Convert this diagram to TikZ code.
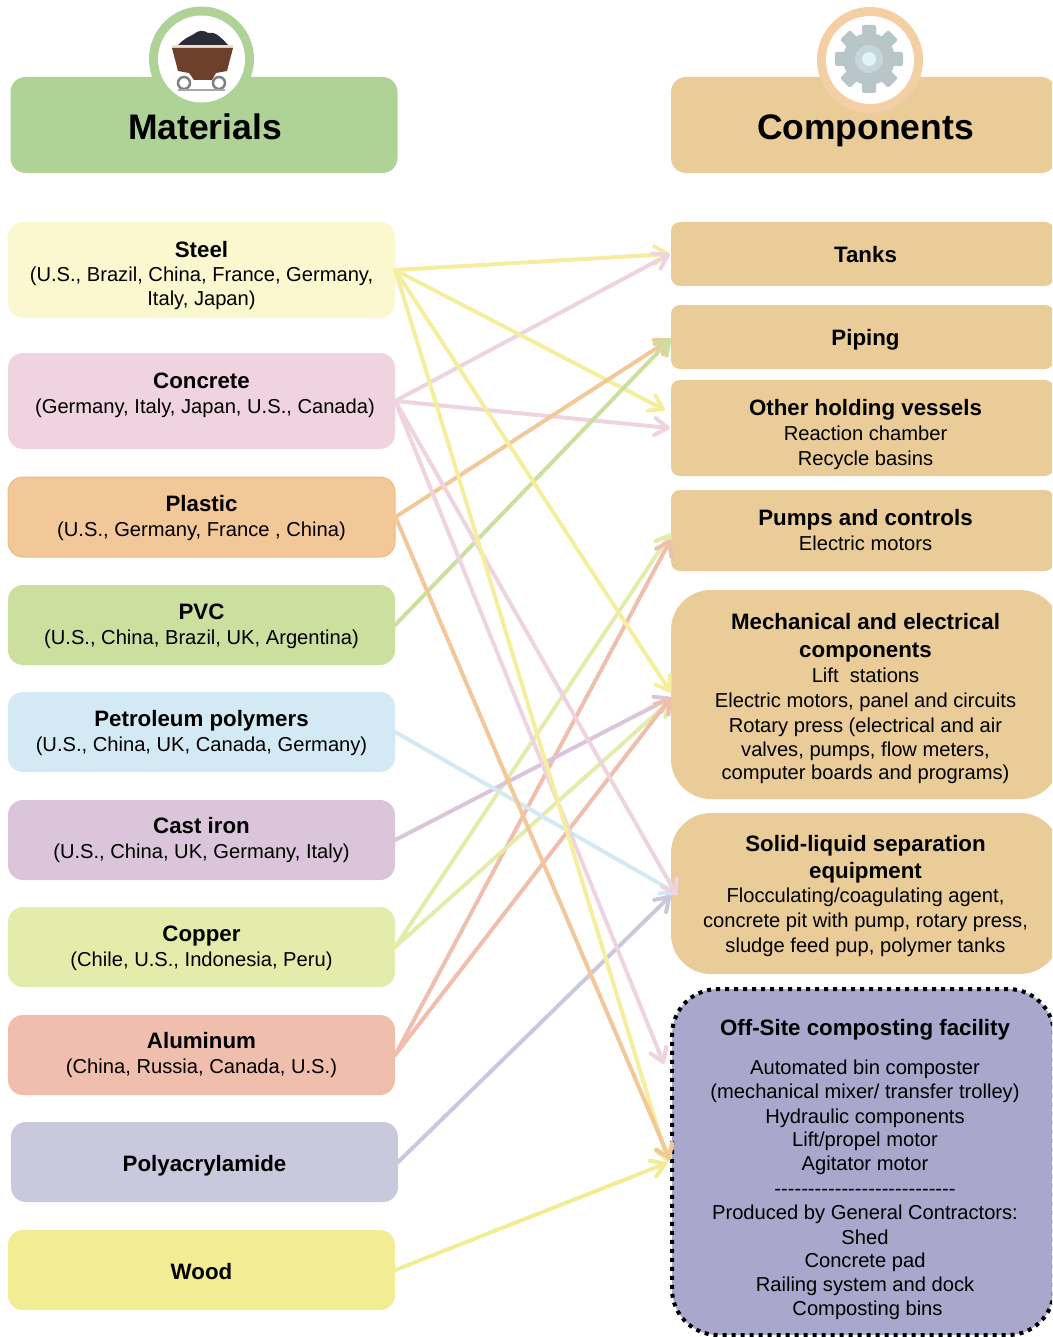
\documentclass[tikz,border=0pt]{standalone}
\usepackage{fontspec}
\setmainfont{Liberation Sans}
\usetikzlibrary{arrows.meta,calc}
\definecolor{cmat}{HTML}{AFD297}\definecolor{ccomp}{HTML}{E9CC98}
\definecolor{csteel}{HTML}{FBF8D0}\definecolor{aSteel}{HTML}{F5EE9E}
\definecolor{cconc}{HTML}{EFD3DF}\definecolor{cplas}{HTML}{F3C898}\definecolor{cplasb}{HTML}{EEBB80}
\definecolor{cpvc}{HTML}{CBDF9F}\definecolor{cpet}{HTML}{D3E9F4}\definecolor{ccast}{HTML}{DAC5DA}
\definecolor{ccop}{HTML}{E4ECAC}\definecolor{calu}{HTML}{F0BEAD}\definecolor{cpoly}{HTML}{CAC8DC}
\definecolor{cwood}{HTML}{F2EC95}\definecolor{coff}{HTML}{A9A8CC}\definecolor{cring}{HTML}{F3CFA3}
\definecolor{cgear}{HTML}{B8C6CA}\definecolor{cgearb}{HTML}{C6D6DA}\definecolor{cgearc}{HTML}{E0F3F5}
\definecolor{ccoal}{HTML}{2C2C38}\definecolor{ccart}{HTML}{6E3F2A}
\newcommand{\bt}[1]{{\fontsize{22.3}{25}\selectfont\bfseries #1}}
% text block whose first baseline sits #1 below the centre of its node
\newcommand{\tx}[2]{\raisebox{-#1pt}[0pt][0pt]{\parbox[t]{360pt}{\centering #2}}}
\tikzset{
  x=1pt,y=-1pt,
  box/.style={inner sep=0pt,rounded corners=15pt,font=\fontsize{20.15}{25}\selectfont,text=black},
  matbox/.style={box,minimum width=387pt},
  compbox/.style={box,fill=ccomp,minimum width=389pt},
  slimbox/.style={box,fill=ccomp,minimum width=383pt,rounded corners=9pt},
  headbox/.style={box,minimum height=96pt,font=\fontsize{35.5}{40}\selectfont\bfseries},
  link/.style={line width=4pt,line cap=round,line join=round,-{Straight Barb[length=13pt,width=17pt,line cap=round,line join=round]}},
}
\begin{document}
\begin{tikzpicture}
\clip (0,0) rectangle (1052,1337);
% headers
\node[headbox,fill=cmat,minimum width=387pt] (materials) at (204,125) {\hspace*{2pt}\tx{14.5}{Materials}};
\node[headbox,fill=ccomp,minimum width=385pt] (components) at (863.5,125) {\hspace*{4pt}\tx{14.5}{Components}};
% icons
\fill[cmat] (201.5,59) circle (52.5);
\fill[white] (201.5,59) circle (43.5);
\fill[cring] (870,60) circle (53);
\fill[white] (870,60) circle (44);
% cart
\fill[ccoal] (178,45) .. controls (184,39) and (188,37) .. (194,34) .. controls (198,30) and (204,30) .. (208,33) .. controls (214,31) and (220,36) .. (228,45) -- cycle;
\fill[white!75!brown] (172,45) rectangle (233,48);
\fill[ccart] (172,48) -- (233,48) -- (227,71) -- (216,73) -- (212,80) -- (194,80) -- (189,73) -- (178,71) -- cycle;
\draw[black!50,line width=2.5pt,fill=white] (184,83) circle (6) (219,83) circle (6);
\draw[black!35,line width=1.5pt] (178,90) -- (225,90);
% gear
\begin{scope}[shift={(869,59)}]
\foreach \a in {0,45,...,315}{\fill[rotate=\a,cgear] (-7,-34) [rounded corners=2pt] rectangle (7,-20);}
\fill[cgear] (0,0) circle (26);
\fill[cgearb] (0,0) circle (14);
\fill[cgearc] (0,0) circle (7);
\end{scope}
% materials
\node[matbox,fill=csteel,minimum height=96pt] (steel) at (201.5,270) {\tx{-13}{\bt{Steel}\\(U.S., Brazil, China, France, Germany,\\[-1pt]Italy, Japan)}};
\node[matbox,fill=cconc,minimum height=96pt] (concrete) at (201.5,401) {\tx{-13}{\bt{Concrete}\\\hspace*{7pt}(Germany, Italy, Japan, U.S., Canada)}};
\node[matbox,fill=cplas,draw=cplasb,line width=1pt,minimum height=80pt] (plastic) at (201.5,517) {\tx{-6}{\bt{Plastic}\\(U.S., Germany, France , China)}};
\node[matbox,fill=cpvc,minimum height=80pt] (pvc) at (201.5,625) {\tx{-6}{\bt{PVC}\\(U.S., China, Brazil, UK, Argentina)}};
\node[matbox,fill=cpet,minimum height=80pt] (petroleum) at (201.5,732) {\tx{-6}{\bt{Petroleum polymers}\\(U.S., China, UK, Canada, Germany)}};
\node[matbox,fill=ccast,minimum height=80pt] (castiron) at (201.5,840) {\tx{-7}{\bt{Cast iron}\\(U.S., China, UK, Germany, Italy)}};
\node[matbox,fill=ccop,minimum height=80pt] (copper) at (201.5,947) {\tx{-6}{\bt{Copper}\\(Chile, U.S., Indonesia, Peru)}};
\node[matbox,fill=calu,minimum height=80pt] (aluminum) at (201.5,1055) {\tx{-7}{\bt{Aluminum}\\(China, Russia, Canada, U.S.)}};
\node[matbox,fill=cpoly,minimum height=80pt] (polyacrylamide) at (204.5,1162) {\tx{9}{\bt{Polyacrylamide}}};
\node[matbox,fill=cwood,minimum height=80pt] (wood) at (201.5,1270) {\tx{9}{\bt{Wood}}};
% components
\node[slimbox,minimum height=64pt] (tanks) at (862.5,254) {\hspace*{6pt}\tx{9}{\bt{Tanks}}};
\node[slimbox,minimum height=64pt] (piping) at (862.5,337) {\hspace*{6pt}\tx{8}{\bt{Piping}}};
\node[slimbox,minimum height=96pt] (vessels) at (862.5,428) {\hspace*{6pt}\tx{-13}{\bt{Other holding vessels}\\Reaction chamber\\Recycle basins}};
\node[slimbox,minimum height=81pt] (pumps) at (862.5,530.5) {\hspace*{6pt}\tx{-5.5}{\bt{Pumps and controls}\\Electric motors}};
\node[compbox,minimum height=209pt,rounded corners=40pt] (mech) at (865.5,694.5) {\tx{-65.5}{\bt{Mechanical and electrical}\\[3pt]\bt{components}\\Lift\ \ stations\\Electric motors, panel and circuits\\Rotary press (electrical and air\\[-1pt]valves, pumps, flow meters,\\[-2pt]computer boards and programs)}};
\node[compbox,minimum height=161pt,rounded corners=40pt] (solid) at (865.5,893.5) {\tx{-42.5}{\bt{Solid-liquid separation}\\[2pt]\bt{equipment}\\[-1pt]Flocculating/coagulating agent,\\concrete pit with pump, rotary press,\\sludge feed pup, polymer tanks}};
\node[box,fill=coff,draw=black,line width=4pt,dash pattern=on 4pt off 5pt,minimum width=382pt,minimum height=346pt,rounded corners=46pt] (offsite) at (863,1162) {\hspace*{4pt}\tx{-127}{\bt{Off-Site composting facility}\\[14pt]Automated bin composter\\[-1pt](mechanical mixer/ transfer trolley)\\Hydraulic components\\[-2pt]Lift/propel motor\\[-1pt]Agitator motor\\-{}-{}-{}-{}-{}-{}-{}-{}-{}-{}-{}-{}-{}-{}-{}-{}-{}-{}-{}-{}-{}-{}-{}-{}-{}-{}-\\[-1pt]Produced by General Contractors:\\Shed\\[-2pt]Concrete pad\\[-1pt]Railing system and dock\\[-1pt]\hspace*{5pt}Composting bins}};
% connectors
\draw[link,aSteel] (steel.east) -- ($(tanks.west)+(-1,0)$);
\draw[link,cconc] (concrete.east) -- ($(tanks.west)+(-1,0)$);
\draw[link,aSteel] (steel.east) -- ($(vessels.west)+(-6,-18)$);
\draw[link,cconc] (concrete.east) -- ($(vessels.west)+(-1,0)$);
\draw[link,cplas] (plastic.east) -- ($(piping.west)+(0,2)$);
\draw[link,cpvc] (pvc.east) -- ($(piping.west)+(0,2)$);
\draw[link,ccop] (copper.east) -- ($(pumps.west)+(0,3)$);
\draw[link,calu] (aluminum.east) -- ($(pumps.west)+(0,9)$);
\draw[link,ccast] (castiron.east) -- ($(mech.west)+(0,3)$);
\draw[link,ccop] (copper.east) -- ($(mech.west)+(0,6)$);
\draw[link,calu] (aluminum.east) -- ($(mech.west)+(0,3)$);
\draw[link,aSteel] (steel.east) -- ($(mech.west)+(0,-2)$);
\draw[link,cpet] (petroleum.east) -- ($(solid.west)+(6,0)$);
\draw[link,cconc] (concrete.east) -- ($(solid.west)+(6,2)$);
\draw[link,cpoly] (polyacrylamide.east) -- ($(solid.west)+(0,2)$);
\draw[link,cconc] (concrete.east) -- ($(offsite.west)+(-6,-98)$);
\draw[link,aSteel] (steel.east) -- ($(offsite.west)+(-2,0)$);
\draw[link,cwood] (wood.east) -- ($(offsite.west)+(-3,1)$);
\draw[link,cplas] (plastic.east) -- ($(offsite.west)+(0,-2)$);
\end{tikzpicture}
\end{document}
